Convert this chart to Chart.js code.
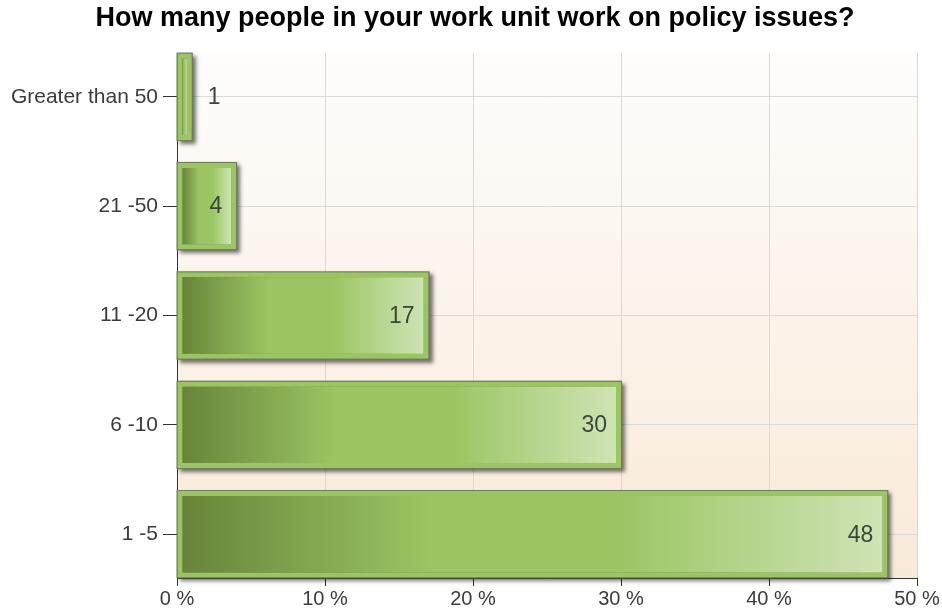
<!DOCTYPE html>
<html>
<head>
<meta charset="utf-8">
<script src="https://cdn.jsdelivr.net/npm/chart.js@4.4.1/dist/chart.umd.min.js"></script>
<style>
    html, body { margin: 0; padding: 0; background: #fff; }
    #wrap { width: 942px; height: 609px; }
</style>
</head>
<body>
<div id="wrap"><canvas id="policyChart"></canvas></div>
<script>
// categories top to bottom, as in the picture
const categories = ['Greater than 50', '21 -50', '11 -20', '6 -10', '1 -5'];
const percentValues = [1, 4, 17, 30, 48];
const xTickValues = [0, 10, 20, 30, 40, 50];
const chartTitle = 'How many people in your work unit work on policy issues?';

const FONT = "'Liberation Sans', Arial, sans-serif";

// plot area background: near white on top, peach at the bottom
const plotBackground = {
    id: 'plotBackground',
    beforeDraw(chart) {
        const { ctx, chartArea } = chart;
        if (!chartArea) return;
        const g = ctx.createLinearGradient(0, chartArea.top, 0, chartArea.bottom);
        g.addColorStop(0, '#fefdfc');
        g.addColorStop(1, '#f9ead8');
        ctx.save();
        ctx.fillStyle = g;
        ctx.fillRect(chartArea.left, chartArea.top, chartArea.right - chartArea.left, chartArea.bottom - chartArea.top);
        ctx.restore();
    }
};

// title sits a bit right of the canvas centre in the original
const titleText = {
    id: 'titleText',
    afterDraw(chart) {
        const { ctx } = chart;
        ctx.save();
        ctx.font = 'bold 27px ' + FONT;
        ctx.fillStyle = '#000';
        ctx.textAlign = 'center';
        ctx.textBaseline = 'alphabetic';
        ctx.fillText(chartTitle, 475, 26);
        ctx.restore();
    }
};

// dark outline + drop shadow under every bar
const barShadow = {
    id: 'barShadow',
    beforeDatasetsDraw(chart) {
        const { ctx } = chart;
        const meta = chart.getDatasetMeta(0);
        ctx.save();
        meta.data.forEach(bar => {
            const p = bar.getProps(['x', 'y', 'base', 'height'], true);
            const left = Math.min(p.base, p.x);
            const right = Math.max(p.base, p.x);
            const top = p.y - p.height / 2;
            ctx.shadowColor = 'rgba(0, 0, 0, 0.55)';
            ctx.shadowBlur = 4;
            ctx.shadowOffsetX = 3;
            ctx.shadowOffsetY = 3;
            ctx.fillStyle = '#6e7c58';
            ctx.fillRect(left - 1, top - 1, right - left + 2, p.height + 2);
        });
        ctx.restore();
    }
};

// value labels at the end of each bar
const valueLabels = {
    id: 'valueLabels',
    afterDatasetsDraw(chart) {
        const { ctx } = chart;
        const meta = chart.getDatasetMeta(0);
        ctx.save();
        ctx.font = '23px ' + FONT;
        ctx.fillStyle = '#3a473a';
        ctx.textBaseline = 'middle';
        meta.data.forEach((bar, i) => {
            const p = bar.getProps(['x', 'y', 'base'], true);
            const w = Math.abs(p.x - p.base);
            const txt = String(percentValues[i]);
            if (w > 40) {
                ctx.textAlign = 'right';
                ctx.fillText(txt, p.x - 14, p.y + 1);
            } else {
                ctx.textAlign = 'left';
                ctx.fillText(txt, p.x + 16, p.y + 1);
            }
        });
        ctx.restore();
    }
};

function barGradient(context) {
    const chart = context.chart;
    if (!chart.chartArea) return '#9bc663';
    const xs = chart.scales.x;
    const x0 = xs.getPixelForValue(0);
    const x1 = xs.getPixelForValue(percentValues[context.dataIndex]);
    const g = chart.ctx.createLinearGradient(x0 + 5, 0, x1 - 5, 0);
    g.addColorStop(0, '#68843a');
    g.addColorStop(0.36, '#9bc663');
    g.addColorStop(0.62, '#9bc663');
    g.addColorStop(1, '#cfe3b4');
    return g;
}

const ctx = document.getElementById('policyChart').getContext('2d');
new Chart(ctx, {
    type: 'bar',
    data: {
        datasets: [{
            data: categories.map((c, i) => ({ x: percentValues[i], y: i })),
            backgroundColor: barGradient,
            borderColor: '#99c660',
            borderWidth: 5,
            borderSkipped: false,
            categoryPercentage: 1,
            barPercentage: 0.79
        }]
    },
    options: {
        indexAxis: 'y',
        responsive: true,
        maintainAspectRatio: false,
        animation: false,
        layout: { padding: { left: 0, right: 25, top: 53, bottom: 0 } },
        plugins: {
            legend: { display: false },
            tooltip: { enabled: false },
            title: { display: false }
        },
        scales: {
            x: {
                type: 'linear',
                min: 0,
                max: 50,
                afterBuildTicks: s => { s.ticks = xTickValues.map(v => ({ value: v })); },
                afterFit: s => { s.height = 31; },
                grid: { color: '#d9d9d9', tickColor: '#333', tickLength: 8 },
                border: { color: '#333', width: 1 },
                ticks: {
                    color: '#3b3b3b',
                    padding: 1,
                    font: { family: FONT, size: 20 },
                    callback: v => v + ' %'
                }
            },
            y: {
                type: 'linear',
                reverse: true,
                offset: false,
                min: -0.4,
                max: 4.4,
                afterBuildTicks: s => { s.ticks = categories.map((c, i) => ({ value: i })); },
                afterFit: s => { s.width = 177; },
                grid: { offset: false, color: '#dadada', tickColor: '#333', tickLength: 14 },
                border: { color: '#333', width: 1 },
                ticks: {
                    color: '#3b3b3b',
                    padding: 5,
                    font: { family: FONT, size: 21 },
                    callback: v => categories[v]
                }
            }
        }
    },
    plugins: [plotBackground, barShadow, valueLabels, titleText]
});
</script>
</body>
</html>
